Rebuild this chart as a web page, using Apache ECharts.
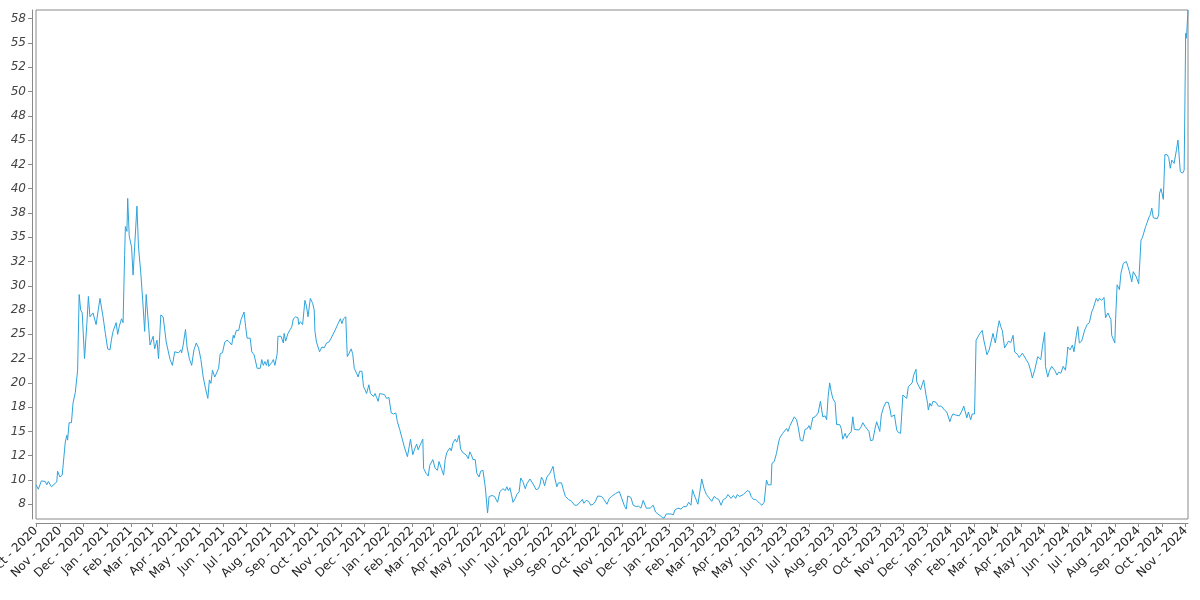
<!DOCTYPE html>
<html>
<head>
<meta charset="utf-8">
<script src="https://cdn.jsdelivr.net/npm/echarts@6/dist/echarts.min.js"></script>
<style>html,body{margin:0;padding:0;background:#fff}#chart{width:1200px;height:600px}</style>
</head>
<body>
<div id="chart"></div>
<script>
const dates = [
'2020-10-01','2020-10-04','2020-10-08','2020-10-13','2020-10-15','2020-10-17','2020-10-21','2020-10-28','2020-10-29',
'2020-11-01','2020-11-04','2020-11-08','2020-11-10','2020-11-11','2020-11-13','2020-11-16','2020-11-18','2020-11-19','2020-11-21','2020-11-22','2020-11-24','2020-11-26','2020-11-28','2020-11-30',
'2020-12-03','2020-12-06','2020-12-08','2020-12-10','2020-12-14','2020-12-16','2020-12-18','2020-12-20','2020-12-23','2020-12-27','2020-12-30',
'2021-01-02','2021-01-05','2021-01-07','2021-01-09','2021-01-13','2021-01-15','2021-01-17','2021-01-20','2021-01-22','2021-01-24','2021-01-25','2021-01-27','2021-01-28','2021-01-30',
'2021-02-02','2021-02-04','2021-02-06','2021-02-09','2021-02-11','2021-02-14','2021-02-17','2021-02-19','2021-02-21','2021-02-22','2021-02-26','2021-02-28',
'2021-03-02','2021-03-04','2021-03-07','2021-03-09','2021-03-12','2021-03-15','2021-03-19','2021-03-20','2021-03-24','2021-03-27','2021-03-30',
'2021-04-04','2021-04-07','2021-04-08','2021-04-10','2021-04-13','2021-04-15','2021-04-18','2021-04-21','2021-04-24','2021-04-27','2021-04-30',
'2021-05-03','2021-05-06','2021-05-09','2021-05-12','2021-05-14','2021-05-16','2021-05-18','2021-05-21','2021-05-26','2021-05-28','2021-05-31',
'2021-06-03','2021-06-06','2021-06-09','2021-06-12','2021-06-14','2021-06-15','2021-06-18','2021-06-21','2021-06-24','2021-06-28','2021-06-30',
'2021-07-02','2021-07-06','2021-07-08','2021-07-11','2021-07-15','2021-07-19','2021-07-21','2021-07-23','2021-07-25','2021-07-27','2021-07-29','2021-07-30',
'2021-08-03','2021-08-05','2021-08-07','2021-08-10','2021-08-11','2021-08-15','2021-08-18','2021-08-19','2021-08-21','2021-08-24','2021-08-27','2021-08-29','2021-08-31',
'2021-09-03','2021-09-06','2021-09-07','2021-09-09','2021-09-12','2021-09-15','2021-09-17','2021-09-19','2021-09-22','2021-09-25','2021-09-27','2021-09-28','2021-09-30',
'2021-10-04','2021-10-07','2021-10-10','2021-10-13','2021-10-16','2021-10-19','2021-10-21','2021-10-24','2021-10-26','2021-10-28','2021-10-31',
'2021-11-02','2021-11-04','2021-11-07','2021-11-08','2021-11-09','2021-11-11','2021-11-14','2021-11-16','2021-11-18','2021-11-21','2021-11-23','2021-11-25','2021-11-28','2021-11-30',
'2021-12-02','2021-12-04','2021-12-07','2021-12-09','2021-12-13','2021-12-15','2021-12-17','2021-12-19','2021-12-21','2021-12-23','2021-12-27','2021-12-30',
'2022-01-02','2022-01-05','2022-01-08','2022-01-11','2022-01-13','2022-01-16','2022-01-19','2022-01-22','2022-01-26','2022-01-28','2022-01-30',
'2022-02-02','2022-02-04','2022-02-07','2022-02-09','2022-02-11','2022-02-13','2022-02-15','2022-02-16','2022-02-19','2022-02-22','2022-02-24','2022-02-26','2022-02-28',
'2022-03-03','2022-03-06','2022-03-08','2022-03-11','2022-03-14','2022-03-16','2022-03-18','2022-03-20','2022-03-22','2022-03-24','2022-03-26','2022-03-29','2022-03-31',
'2022-04-03','2022-04-05','2022-04-08','2022-04-12','2022-04-15','2022-04-17','2022-04-19','2022-04-21','2022-04-24','2022-04-26','2022-04-28','2022-04-29',
'2022-05-01','2022-05-04','2022-05-07','2022-05-10','2022-05-12','2022-05-14','2022-05-16','2022-05-19','2022-05-21','2022-05-23','2022-05-26','2022-05-28','2022-05-30',
'2022-06-02','2022-06-04','2022-06-06','2022-06-08','2022-06-10','2022-06-12','2022-06-15','2022-06-17','2022-06-20','2022-06-22','2022-06-25','2022-06-28','2022-06-30',
'2022-07-04','2022-07-06','2022-07-08','2022-07-12','2022-07-15','2022-07-17','2022-07-19','2022-07-21','2022-07-23','2022-07-26','2022-07-30',
'2022-08-03','2022-08-05','2022-08-08','2022-08-10','2022-08-14','2022-08-16','2022-08-19','2022-08-23','2022-08-27','2022-08-31',
'2022-09-03','2022-09-07','2022-09-10','2022-09-12','2022-09-15','2022-09-18','2022-09-21','2022-09-24','2022-09-27','2022-09-30',
'2022-10-05','2022-10-08','2022-10-12','2022-10-15','2022-10-18','2022-10-20','2022-10-23','2022-10-28',
'2022-11-04','2022-11-06','2022-11-08','2022-11-12','2022-11-15','2022-11-19','2022-11-22','2022-11-25','2022-11-28',
'2022-12-02','2022-12-04','2022-12-07','2022-12-11','2022-12-14','2022-12-17','2022-12-22','2022-12-25','2022-12-28','2022-12-30',
'2023-01-03','2023-01-06','2023-01-08','2023-01-12','2023-01-16','2023-01-19','2023-01-21','2023-01-23','2023-01-26','2023-01-29','2023-01-31',
'2023-02-02','2023-02-04','2023-02-07','2023-02-09','2023-02-12','2023-02-15','2023-02-18','2023-02-20','2023-02-25','2023-02-28',
'2023-03-03','2023-03-06','2023-03-09','2023-03-12','2023-03-15','2023-03-18','2023-03-22','2023-03-25','2023-03-28','2023-03-30',
'2023-04-02','2023-04-07','2023-04-09','2023-04-12','2023-04-15','2023-04-17','2023-04-20','2023-04-23','2023-04-25','2023-04-28',
'2023-05-01','2023-05-04','2023-05-07','2023-05-09','2023-05-13','2023-05-14','2023-05-17','2023-05-20','2023-05-22','2023-05-24','2023-05-28','2023-05-30',
'2023-06-02','2023-06-04','2023-06-06','2023-06-08','2023-06-12','2023-06-15','2023-06-17','2023-06-20','2023-06-23','2023-06-26','2023-06-29',
'2023-07-01','2023-07-03','2023-07-06','2023-07-09','2023-07-10','2023-07-13','2023-07-16','2023-07-19','2023-07-22','2023-07-24','2023-07-26','2023-07-28','2023-07-30',
'2023-08-01','2023-08-04','2023-08-06','2023-08-08','2023-08-10','2023-08-12','2023-08-14','2023-08-17','2023-08-19','2023-08-21','2023-08-23','2023-08-25','2023-08-27','2023-08-29','2023-08-31',
'2023-09-04','2023-09-07','2023-09-09','2023-09-12','2023-09-14','2023-09-17','2023-09-19','2023-09-22','2023-09-25','2023-09-27','2023-09-29',
'2023-10-01','2023-10-03','2023-10-06','2023-10-09','2023-10-12','2023-10-14','2023-10-16','2023-10-18','2023-10-20','2023-10-23','2023-10-25','2023-10-28','2023-10-31',
'2023-11-02','2023-11-05','2023-11-07','2023-11-09','2023-11-12','2023-11-14','2023-11-17','2023-11-18','2023-11-21','2023-11-23','2023-11-25','2023-11-27','2023-11-30',
'2023-12-02','2023-12-03','2023-12-05','2023-12-07','2023-12-09','2023-12-13','2023-12-16','2023-12-18','2023-12-20','2023-12-22','2023-12-24','2023-12-27','2023-12-29','2023-12-31',
'2024-01-02','2024-01-04','2024-01-07','2024-01-09','2024-01-12','2024-01-15','2024-01-18','2024-01-20','2024-01-22','2024-01-24','2024-01-27','2024-01-29','2024-01-30',
'2024-02-01','2024-02-03','2024-02-05','2024-02-08','2024-02-11','2024-02-13','2024-02-15','2024-02-17','2024-02-20','2024-02-22','2024-02-25','2024-02-26','2024-02-28',
'2024-03-02','2024-03-04','2024-03-06','2024-03-08','2024-03-11','2024-03-14','2024-03-16','2024-03-19','2024-03-22','2024-03-24','2024-03-28','2024-03-30',
'2024-04-03','2024-04-05','2024-04-08','2024-04-11','2024-04-14','2024-04-16','2024-04-19','2024-04-23','2024-04-25','2024-04-27','2024-04-29',
'2024-05-02','2024-05-03','2024-05-06','2024-05-08','2024-05-11','2024-05-15','2024-05-18','2024-05-20','2024-05-23','2024-05-26','2024-05-29','2024-05-31',
'2024-06-01','2024-06-04','2024-06-07','2024-06-09','2024-06-12','2024-06-14','2024-06-16','2024-06-19','2024-06-23','2024-06-26','2024-06-29',
'2024-07-02','2024-07-04','2024-07-06','2024-07-08','2024-07-10','2024-07-12','2024-07-15','2024-07-18','2024-07-20','2024-07-23','2024-07-27','2024-07-28',
'2024-08-01','2024-08-02','2024-08-04','2024-08-07','2024-08-09','2024-08-12','2024-08-16','2024-08-18','2024-08-20','2024-08-23','2024-08-25','2024-08-29',
'2024-09-01','2024-09-04','2024-09-06','2024-09-08','2024-09-10','2024-09-12','2024-09-14','2024-09-16','2024-09-18','2024-09-20','2024-09-22','2024-09-25','2024-09-27','2024-09-28','2024-09-30',
'2024-10-03','2024-10-05','2024-10-08','2024-10-10','2024-10-12','2024-10-14','2024-10-17','2024-10-20','2024-10-22','2024-10-24','2024-10-25','2024-10-28','2024-10-30',
'2024-11-01','2024-11-02','2024-11-04'
];
const values = [
9.5,9.05,9.9,9.85,9.5,9.85,9.3,9.8,10.9,
10.3,10.5,13.9,14.6,14.1,15.9,15.9,17.9,18.1,19.0,18.9,21.3,29.1,27.5,27.2,
22.5,26.1,28.9,26.8,27.2,27.1,26.0,27.1,28.7,26.8,25.1,
23.5,23.4,24.5,25.3,26.2,25.0,25.8,26.6,26.2,33.1,36.1,35.6,39.0,35.1,
34.0,31.1,34.0,38.2,34.0,31.3,27.9,25.3,29.1,28.0,23.9,23.7,
24.8,23.5,24.4,22.5,27.0,26.8,24.2,24.3,22.4,21.8,23.2,
23.1,23.4,23.1,23.9,25.5,23.7,22.5,21.8,23.4,24.1,23.6,
22.4,20.6,19.4,18.4,20.3,19.95,21.3,20.6,21.5,23.0,23.1,
24.2,24.4,24.2,23.9,24.9,24.6,25.4,25.4,26.5,27.3,25.8,
24.6,24.6,23.2,22.9,21.5,21.5,22.4,21.8,22.2,21.8,22.4,21.7,
22.1,22.4,21.8,23.0,24.8,24.8,24.1,25.1,24.3,25.1,25.5,25.8,26.6,
26.8,26.7,26.0,26.3,26.0,28.5,27.9,26.8,28.7,28.2,27.5,25.3,24.2,
23.2,23.7,23.6,24.1,24.2,24.6,24.4,25.4,25.5,26.1,26.6,
26.1,26.6,26.8,24.6,22.7,23.0,23.5,23.0,21.5,21.0,20.6,21.2,21.2,19.6,
19.3,18.9,19.8,18.9,18.6,18.9,18.5,18.1,18.9,18.7,18.8,18.4,
18.5,16.9,16.8,16.9,16.0,15.2,14.3,13.4,12.4,13.3,14.2,
12.6,13.1,13.7,13.1,13.5,13.4,14.2,11.2,10.7,10.4,11.5,11.4,12.1,
11.2,11.0,11.9,11.2,10.5,12.1,12.8,12.9,13.3,13.0,13.8,14.2,13.9,
14.6,13.2,12.8,12.6,12.2,12.9,12.6,12.1,12.1,10.7,10.9,10.3,
10.9,11.0,9.3,6.6,8.3,8.1,8.4,8.3,8.5,7.7,8.8,8.6,9.1,
8.9,9.3,8.9,9.2,8.5,7.7,8.1,8.5,8.8,10.2,9.8,9.1,9.6,
10.1,10.2,9.6,9.0,9.1,9.5,10.3,10.0,9.4,10.3,10.7,
11.4,10.3,9.3,9.7,9.7,9.1,8.3,8.0,7.8,7.4,
7.4,7.7,8.0,7.6,7.9,7.8,7.4,7.5,7.8,8.35,
8.3,8.0,7.5,8.1,8.3,8.2,8.6,8.8,
7.25,7.0,8.35,8.2,7.4,7.25,7.3,7.1,7.9,
7.1,7.25,7.1,7.4,6.7,6.5,6.2,6.06,6.5,6.3,
6.5,6.4,6.9,7.1,7.0,7.25,7.4,7.25,7.7,7.4,9.0,
8.5,8.4,7.5,7.5,10.1,9.1,8.5,8.3,7.8,8.3,
8.1,8.0,7.4,8.0,8.1,8.5,8.1,8.4,8.1,8.5,
8.3,8.5,8.3,8.9,8.8,8.3,8.0,8.0,7.9,7.6,
7.4,7.7,10.0,9.5,9.5,11.7,11.9,12.75,13.6,14.3,14.8,14.6,
15.3,15.0,15.5,15.6,16.5,16.2,15.5,14.1,14.0,15.2,15.3,
15.6,15.2,16.4,16.5,16.7,16.9,18.1,16.5,16.6,16.2,18.6,20.0,19.1,
18.4,18.0,15.7,15.6,15.7,15.3,14.2,14.8,14.3,14.6,14.5,15.0,16.5,15.2,15.2,
15.15,15.5,15.9,15.5,15.6,15.0,14.05,14.1,15.35,16.0,16.0,
15.0,16.7,17.5,18.0,18.0,17.4,16.5,16.3,16.7,15.15,14.9,14.8,18.75,
18.9,18.4,19.6,19.8,20.0,20.8,21.4,20.1,19.6,19.3,19.8,20.3,18.75,
17.9,17.2,17.9,17.6,18.1,18.0,17.6,17.7,17.6,17.6,17.2,17.0,16.5,16.0,
16.5,16.8,16.7,16.8,16.6,17.0,17.6,17.0,16.4,17.0,16.2,16.8,16.6,
16.8,24.4,24.2,25.1,25.4,24.4,23.7,22.9,23.4,23.6,25.1,24.7,24.1,
25.6,26.4,25.8,25.4,23.6,24.0,24.3,24.15,24.9,23.2,22.9,22.6,
23.05,22.9,22.4,22.0,21.2,20.5,21.3,22.7,22.9,22.4,23.7,
25.2,21.7,20.6,21.2,21.7,21.3,20.8,21.1,21.0,21.7,21.3,22.7,
23.7,23.4,23.9,23.2,24.9,25.8,24.1,24.3,25.45,26.0,26.2,
27.3,27.65,28.2,28.7,28.4,28.7,28.5,28.8,26.7,27.2,26.5,24.9,
24.1,26.5,30.1,29.6,31.3,32.3,32.5,32.0,31.45,30.4,31.45,30.9,
30.2,34.7,35.0,34.9,36.1,36.5,37.0,37.3,38.0,37.0,37.2,36.9,37.3,39.5,40.0,
38.9,43.5,43.5,43.2,42.1,42.95,42.6,44.0,45.0,45.0,41.75,41.6,41.9,
56.0,55.5,58.4
];
const monthTicks = [
'2020-10-01','2020-11-01','2020-12-01',
'2021-01-01','2021-02-01','2021-03-01','2021-04-01','2021-05-01','2021-06-01','2021-07-01','2021-08-01','2021-09-01','2021-10-01','2021-11-01','2021-12-01',
'2022-01-01','2022-02-01','2022-03-01','2022-04-01','2022-05-01','2022-06-01','2022-07-01','2022-08-01','2022-09-01','2022-10-01','2022-11-01','2022-12-01',
'2023-01-01','2023-02-01','2023-03-01','2023-04-01','2023-05-01','2023-06-01','2023-07-01','2023-08-01','2023-09-01','2023-10-01','2023-11-01','2023-12-01',
'2024-01-01','2024-02-01','2024-03-01','2024-04-01','2024-05-01','2024-06-01','2024-07-01','2024-08-01','2024-09-01','2024-10-01','2024-11-01'
];
const monthNames = ['Jan','Feb','Mar','Apr','May','Jun','Jul','Aug','Sep','Oct','Nov','Dec'];
const yTickValues = [7.5,10,12.5,15,17.5,20,22.5,25,27.5,30,32.5,35,37.5,40,42.5,45,47.5,50,52.5,55,57.5];
const yTickLabels = ['8','10','12','15','18','20','22','25','28','30','32','35','38','40','42','45','48','50','52','55','58'];

const toTs = s => new Date(s + 'T00:00:00').getTime();
const monthTs = monthTicks.map(toTs);

const chart = echarts.init(document.getElementById('chart'), null, {renderer: 'canvas'});
chart.setOption({
  animation: false,
  backgroundColor: '#ffffff',
  grid: {
    left: 36, right: 12, top: 10, bottom: 81,
    show: true, borderColor: '#8a8a8a', borderWidth: 1,
    containLabel: false, outerBoundsMode: 'none'
  },
  xAxis: {
    type: 'value',
    min: toTs('2020-10-01'),
    max: toTs('2024-11-04'),
    offset: 4,
    axisLine: {show: true, onZero: false, lineStyle: {color: '#8a8a8a', width: 1}},
    axisTick: {show: true, length: 4, lineStyle: {color: '#8a8a8a'}, customValues: monthTs},
    splitLine: {show: false},
    axisLabel: {
      customValues: monthTs,
      rotate: 45,
      margin: 6,
      fontFamily: 'DejaVu Sans',
      fontSize: 12,
      color: '#222',
      hideOverlap: false,
      showMinLabel: true,
      showMaxLabel: true,
      formatter: function (v) {
        const d = new Date(v);
        return monthNames[d.getMonth()] + ' - ' + d.getFullYear();
      }
    }
  },
  yAxis: {
    type: 'value',
    min: 5.98,
    max: 58.4,
    offset: 4,
    axisLine: {show: true, onZero: false, lineStyle: {color: '#8a8a8a', width: 1}},
    axisTick: {show: true, length: 4, lineStyle: {color: '#8a8a8a'}, customValues: yTickValues},
    splitLine: {show: false},
    axisLabel: {
      customValues: yTickValues,
      margin: 6,
      fontFamily: 'DejaVu Sans',
      fontStyle: 'italic',
      fontSize: 12,
      color: '#444',
      formatter: function (v) {
        let best = 0;
        for (let i = 0; i < yTickValues.length; i++) {
          if (Math.abs(yTickValues[i] - v) < Math.abs(yTickValues[best] - v)) best = i;
        }
        return yTickLabels[best];
      }
    }
  },
  series: [{
    type: 'line',
    data: dates.map((d, i) => [toTs(d), values[i]]),
    showSymbol: false,
    symbol: 'none',
    lineStyle: {color: '#2ea3dc', width: 1},
    itemStyle: {color: '#2ea3dc'}
  }]
});
</script>
</body>
</html>
